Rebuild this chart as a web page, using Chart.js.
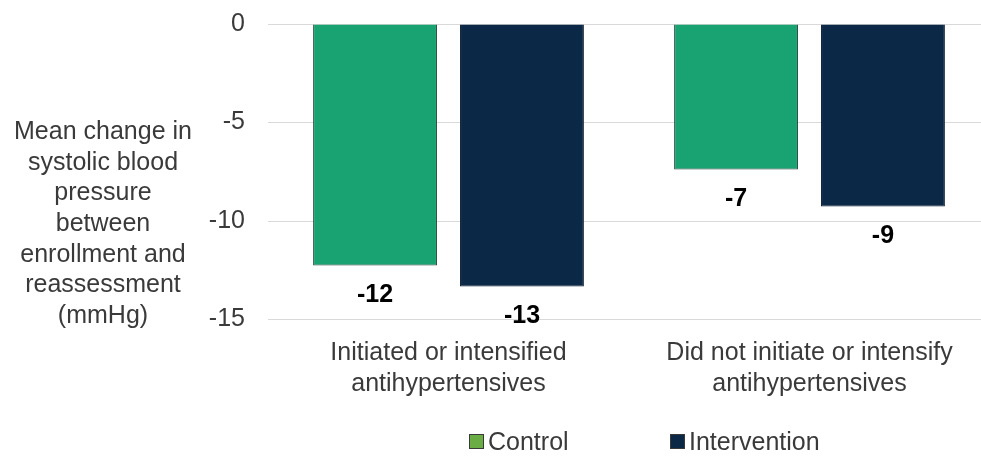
<!DOCTYPE html>
<html>
<head>
<meta charset="utf-8">
<script src="https://cdn.jsdelivr.net/npm/chart.js@4.4.1/dist/chart.umd.min.js"></script>
<style>
    body { margin: 0; background: #ffffff; }
    #wrap { position: relative; width: 981px; height: 459px; overflow: hidden; }
    #legend {
        position: absolute; left: 469px; top: 427px;
        font-family: "Liberation Sans", Arial, sans-serif; font-size: 25px; line-height: 29px; color: #3a3a3a;
        display: flex;
    }
    .legend-item { display: flex; align-items: center; }
    .legend-box { width: 15px; height: 15px; box-sizing: border-box; border: 1px solid #3a3a3a; margin-right: 4px; }
</style>
</head>
<body>
<div id="wrap">
    <canvas id="bp-chart" width="1000" height="459"></canvas>
    <div id="legend"></div>
</div>
<script>
const categories = [
    ['Initiated or intensified', 'antihypertensives'],
    ['Did not initiate or intensify', 'antihypertensives']
];
const controlValues = [-12.26, -7.38];
const interventionValues = [-13.33, -9.26];
const seriesNames = ['Control', 'Intervention'];
const yTicks = [0, -5, -10, -15];
const axisTitleLines = ['Mean change in', 'systolic blood', 'pressure', 'between', 'enrollment and', 'reassessment', '(mmHg)'];

const barColors = ['#1aa372', '#0b2847'];
const legendColors = ['#6aad45', '#0b2847'];
const FONT = '"Liberation Sans", Arial, sans-serif';

// rounded value under each bar
const valueLabels = {
    id: 'valueLabels',
    afterDatasetsDraw(chart) {
        const { ctx } = chart;
        ctx.save();
        ctx.font = 'bold 25px ' + FONT;
        ctx.fillStyle = '#000000';
        ctx.textAlign = 'center';
        ctx.textBaseline = 'middle';
        chart.data.datasets.forEach((ds, i) => {
            chart.getDatasetMeta(i).data.forEach((bar, j) => {
                ctx.fillText(String(Math.round(ds.data[j])), bar.x, bar.y + 30);
            });
        });
        ctx.restore();
    }
};

// horizontal multi-line y axis title
const yTitle = {
    id: 'yTitle',
    afterDraw(chart) {
        const { ctx } = chart;
        ctx.save();
        ctx.font = '25px ' + FONT;
        ctx.fillStyle = '#3a3a3a';
        ctx.textAlign = 'center';
        ctx.textBaseline = 'middle';
        axisTitleLines.forEach((line, i) => {
            ctx.fillText(line, 103, 132 + i * 30.7);
        });
        ctx.restore();
    }
};

const chart = new Chart(document.getElementById('bp-chart'), {
    type: 'bar',
    data: {
        labels: categories,
        datasets: [{
            label: seriesNames[0],
            data: controlValues,
            backgroundColor: barColors[0],
            borderColor: '#24433a',
            borderWidth: 1
        }, {
            label: seriesNames[1],
            data: interventionValues,
            backgroundColor: barColors[1],
            borderColor: '#0a1a2c',
            borderWidth: 1
        }]
    },
    options: {
        responsive: false,
        animation: false,
        categoryPercentage: 0.814,
        barPercentage: 0.843,
        layout: {
            padding: { left: 0, right: 10, top: 24, bottom: 41 }
        },
        scales: {
            x: {
                grid: { display: false, drawTicks: false },
                border: { display: false },
                ticks: {
                    color: '#3a3a3a',
                    padding: 18,
                    font: { family: FONT, size: 25, lineHeight: 1.25 }
                }
            },
            y: {
                min: -15,
                max: 0,
                border: { display: false },
                grid: { color: '#d9d9d9', drawTicks: false },
                afterFit: scale => {
                    scale.width = 268;
                    scale.paddingTop = 0;
                    scale.paddingBottom = 0;
                },
                afterBuildTicks: scale => { scale.ticks = yTicks.map(v => ({ value: v })); },
                ticks: {
                    color: '#3a3a3a',
                    padding: 23,
                    font: { family: FONT, size: 25 }
                }
            }
        },
        plugins: {
            legend: { display: false },
            tooltip: { enabled: false }
        }
    },
    plugins: [valueLabels, yTitle]
});

// legend built from the datasets
const legendEl = document.getElementById('legend');
chart.data.datasets.forEach((ds, i) => {
    const item = document.createElement('div');
    item.className = 'legend-item';
    if (i === 0) item.style.width = '201px';
    item.innerHTML = `<span class="legend-box" style="background:${legendColors[i]}"></span><span>${ds.label}</span>`;
    legendEl.appendChild(item);
});
</script>
</body>
</html>
